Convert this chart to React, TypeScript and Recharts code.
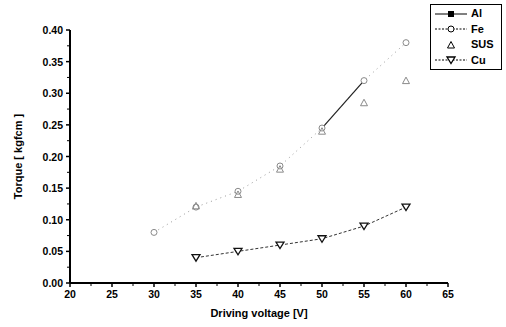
import React from "react";
import {
  LineChart,
  Line,
  XAxis,
  YAxis,
  Legend,
} from "recharts";

const voltages = [30, 35, 40, 45, 50, 55, 60];
const alTorque = [null, null, null, null, 0.245, 0.32, null];
const feTorque = [0.08, 0.12, 0.145, 0.185, 0.245, 0.32, 0.38];
const susTorque = [null, 0.122, 0.14, 0.18, 0.24, 0.285, 0.32];
const cuTorque = [null, 0.04, 0.05, 0.06, 0.07, 0.09, 0.12];

// major ticks carry labels, the halves in between are short unlabeled marks
const xTicks = [20, 22.5, 25, 27.5, 30, 32.5, 35, 37.5, 40, 42.5, 45, 47.5, 50, 52.5, 55, 57.5, 60, 62.5, 65];
const yTicks = [0, 0.025, 0.05, 0.075, 0.1, 0.125, 0.15, 0.175, 0.2, 0.225, 0.25, 0.275, 0.3, 0.325, 0.35, 0.375, 0.4];

const data = voltages.map((v, i) => ({
  v,
  al: alTorque[i],
  fe: feTorque[i],
  sus: susTorque[i],
  cu: cuTorque[i],
}));

const FONT = "'Liberation Sans', Arial, sans-serif";

const isMajor = (val: number, step: number) => Math.abs(val / step - Math.round(val / step)) < 1e-6;

const XTick = (props: any) => {
  const { x, y, payload } = props;
  const major = isMajor(payload.value, 5);
  return (
    <g>
      <line x1={x} y1={y} x2={x} y2={y + (major ? 4 : 3)} stroke="#000" strokeWidth={major ? 1.5 : 1} />
      {major && (
        <text x={x} y={y + 15} textAnchor="middle" fill="#000" fontSize={10.5} fontWeight={700} fontFamily={FONT}>
          {payload.value}
        </text>
      )}
    </g>
  );
};

const YTick = (props: any) => {
  const { x, y, payload } = props;
  const major = isMajor(payload.value, 0.05);
  return (
    <g>
      <line x1={x} y1={y} x2={x - (major ? 4 : 3)} y2={y} stroke="#000" strokeWidth={major ? 1.5 : 1} />
      {major && (
        <text x={x - 7} y={y + 4} textAnchor="end" fill="#000" fontSize={10.5} fontWeight={700} fontFamily={FONT}>
          {payload.value.toFixed(2)}
        </text>
      )}
    </g>
  );
};

const makeDot = (kind: string, color: string) => (props: any) => {
  const { cx, cy, value, index } = props;
  const key = `${kind}-${index}`;
  if (value == null || cx == null || cy == null) return <g key={key} />;
  if (kind === "circle")
    return <circle key={key} cx={cx} cy={cy} r={3} fill="#fff" stroke={color} strokeWidth={1} />;
  if (kind === "up")
    return (
      <path key={key} d={`M${cx - 3.5},${cy + 3} L${cx + 3.5},${cy + 3} L${cx},${cy - 3.5} Z`}
        fill="none" stroke={color} strokeWidth={1} />
    );
  if (kind === "down")
    return (
      <path key={key} d={`M${cx - 4},${cy - 3} L${cx + 4},${cy - 3} L${cx},${cy + 3.5} Z`}
        fill="#fff" stroke={color} strokeWidth={1.3} />
    );
  return <rect key={key} x={cx - 3} y={cy - 3} width={6} height={6} fill={color} />;
};

const legendItems = [
  { name: "Al", kind: "square", dash: undefined },
  { name: "Fe", kind: "circle", dash: "2 1.5" },
  { name: "SUS", kind: "up", dash: "0 20" },
  { name: "Cu", kind: "down", dash: "2 1.5" },
];

function LegendBox() {
  return (
    <div
      style={{
        border: "1.5px solid #000",
        background: "#fff",
        padding: "1px 3px",
        fontFamily: FONT,
        fontWeight: 700,
        fontSize: 11,
        lineHeight: "15.5px",
      }}
    >
      {legendItems.map((it) => (
        <div key={it.name} style={{ display: "flex", alignItems: "center" }}>
          <svg width={34} height={12} style={{ marginRight: 3 }}>
            <line x1={1} y1={6} x2={33} y2={6} stroke="#000" strokeWidth={1} strokeDasharray={it.dash} />
            {makeDot(it.kind, "#000")({ cx: 17, cy: 6, value: 1, index: 0 })}
          </svg>
          <span>{it.name}</span>
        </div>
      ))}
    </div>
  );
}

export default function App() {
  return (
    <div style={{ position: "absolute", left: 0, top: 0, width: 506, height: 327, background: "#fff" }}>
      <LineChart width={506} height={327} data={data} margin={{ top: 30, right: 58, left: 0, bottom: 0 }}>
        <XAxis
          dataKey="v"
          type="number"
          domain={[20, 65]}
          ticks={xTicks}
          interval={0}
          allowDataOverflow
          stroke="#000"
          strokeWidth={2}
          tickLine={false}
          tickSize={0}
          tickMargin={0}
          tick={<XTick />}
          height={44}
          label={{ value: "Driving voltage [V]", position: "insideBottom", offset: 10, fill: "#000", fontSize: 11, fontWeight: 700, fontFamily: FONT }}
        />
        <YAxis
          type="number"
          domain={[0, 0.4]}
          ticks={yTicks}
          interval={0}
          stroke="#000"
          strokeWidth={2}
          tickLine={false}
          tickSize={0}
          tickMargin={0}
          tick={<YTick />}
          width={70}
          label={{ value: "Torque [ kgfcm ]", angle: -90, position: "insideLeft", offset: 18, fill: "#000", fontSize: 11, fontWeight: 700, fontFamily: FONT, style: { textAnchor: "middle" } }}
        />
        <Legend
          layout="vertical"
          align="center"
          verticalAlign="middle"
          wrapperStyle={{ left: 430, top: 4, width: 72 }}
          content={() => <LegendBox />}
        />
        <Line
          dataKey="fe"
          name="Fe"
          stroke="#9a9a9a"
          strokeWidth={1}
          strokeDasharray="1 4"
          connectNulls={false}
          dot={makeDot("circle", "#8a8a8a")}
          isAnimationActive={false}
        />
        <Line
          dataKey="sus"
          name="SUS"
          stroke="none"
          dot={makeDot("up", "#8a8a8a")}
          isAnimationActive={false}
        />
        <Line
          dataKey="al"
          name="Al"
          stroke="#222"
          strokeWidth={1.2}
          dot={false}
          isAnimationActive={false}
        />
        <Line
          dataKey="cu"
          name="Cu"
          stroke="#333"
          strokeWidth={1}
          strokeDasharray="3 2"
          dot={makeDot("down", "#111")}
          isAnimationActive={false}
        />
      </LineChart>
    </div>
  );
}
